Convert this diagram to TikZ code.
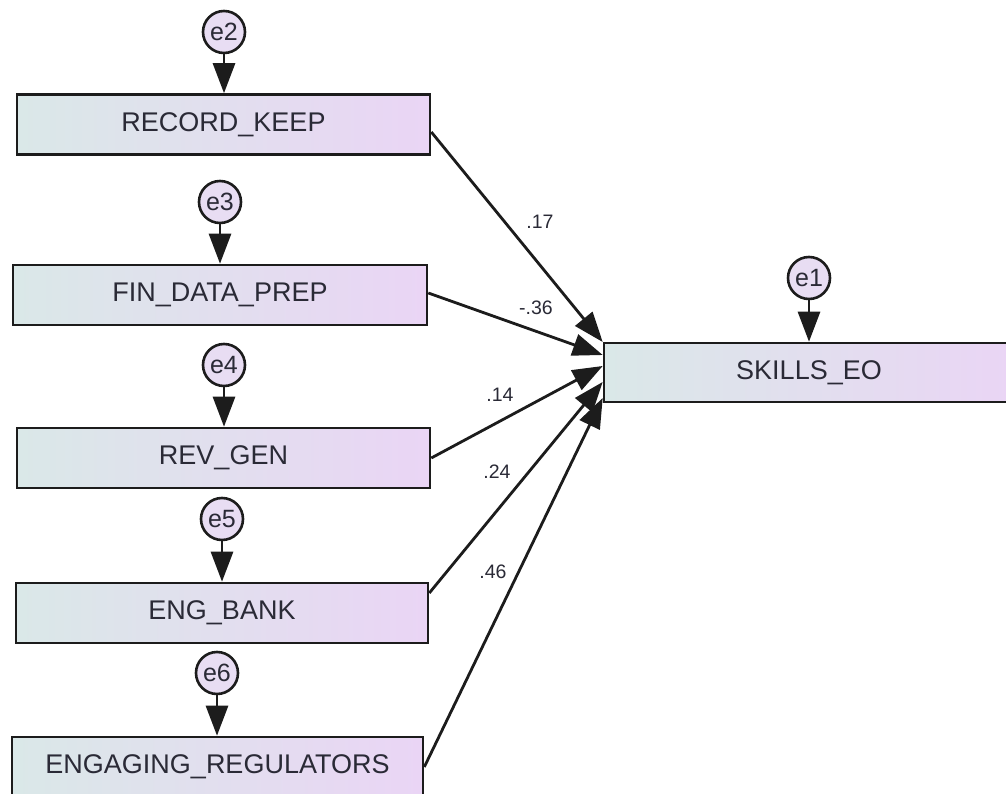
\documentclass[tikz,border=0pt]{standalone}
\usepackage{fontspec}
\setmainfont{Liberation Sans}
\usetikzlibrary{arrows.meta}
\definecolor{lc}{HTML}{DAE8E8}
\definecolor{rc}{HTML}{EAD5F5}
\definecolor{ec}{HTML}{E8DDF3}
\definecolor{ln}{HTML}{1C1C1C}
\definecolor{tx}{HTML}{2A2A36}
\begin{document}
\begin{tikzpicture}[x=1pt,y=-1pt,
 varbox/.style={draw=ln,line width=2.6pt,left color=lc,right color=rc,minimum height=60pt,inner sep=0pt,font=\fontsize{27}{30}\selectfont,text=tx},
 errc/.style={circle,draw=ln,line width=2.6pt,fill=ec,minimum size=42pt,inner sep=0pt,font=\fontsize{25}{28}\selectfont,text=tx},
 arr/.style={draw=ln,line width=2.8pt,-{Triangle[length=30pt,width=22pt]}},
 coef/.style={font=\fontsize{19.5}{22}\selectfont,text=tx}]
\clip (0,0) rectangle (1006,794);
\fill[white] (0,0) rectangle (1006,794);
% observed variables
\node[varbox,minimum width=413pt] (rk) at (223.5,124.5) {RECORD\_KEEP};
\node[varbox,minimum width=414pt] (fdp) at (220,295) {FIN\_DATA\_PREP};
\node[varbox,minimum width=413pt] (rg) at (223.5,458) {REV\_GEN};
\node[varbox,minimum width=412pt] (eb) at (222,613) {ENG\_BANK};
\node[varbox,minimum width=411pt] (er) at (217.5,767) {ENGAGING\_REGULATORS};
\node[varbox,minimum width=410pt,minimum height=59pt] (sk) at (809,372.5) {SKILLS\_EO};
% error terms
\node[errc] (e2) at (224,32) {e2};
\node[errc] (e3) at (220,202) {e3};
\node[errc] (e4) at (224,365) {e4};
\node[errc] (e5) at (222,519) {e5};
\node[errc] (e6) at (217,673) {e6};
\node[errc] (e1) at (809,278) {e1};
\draw[arr] (e2) -- (e2 |- rk.north);
\draw[arr] (e3) -- (e3 |- fdp.north);
\draw[arr] (e4) -- (e4 |- rg.north);
\draw[arr] (e5) -- (e5 |- eb.north);
\draw[arr] (e6) -- (e6 |- er.north);
\draw[arr] (e1) -- (e1 |- sk.north);
% paths
\draw[arr] ([yshift=-7.5pt]rk.east) -- ([yshift=30.5pt]sk.west);
\draw[arr] ([yshift=2pt]fdp.east) -- ([yshift=17.5pt]sk.west);
\draw[arr] (rg.east) -- ([yshift=6.5pt]sk.west);
\draw[arr] ([yshift=20pt]eb.east) -- ([yshift=-9.5pt]sk.west);
\draw[arr] (er.east) -- ([yshift=-25.5pt]sk.west);
% coefficients
\node[coef] (c1) at (540,222) {.17};
\node[coef] (c2) at (536,308) {-.36};
\node[coef] (c3) at (500,395) {.14};
\node[coef] (c4) at (497,472) {.24};
\node[coef] (c5) at (493,572) {.46};
\end{tikzpicture}
\end{document}
